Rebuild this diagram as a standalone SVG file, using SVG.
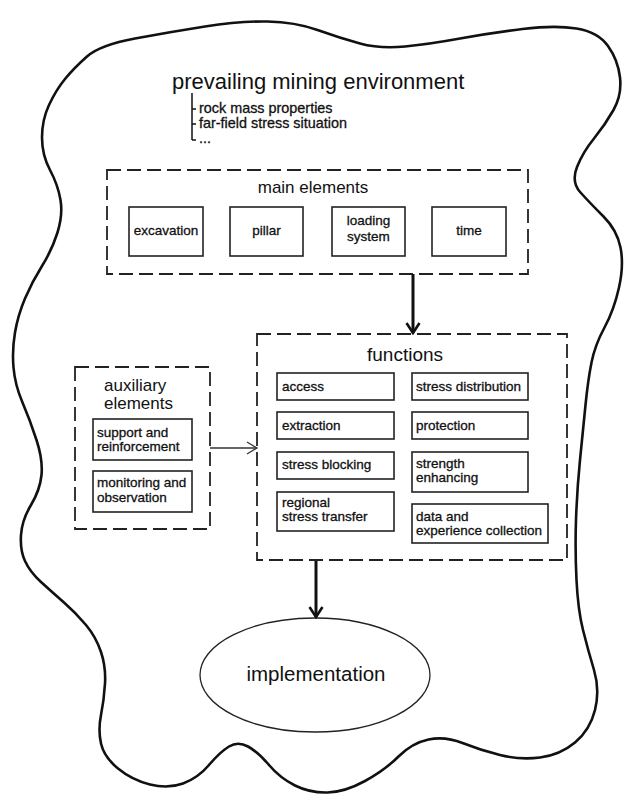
<svg xmlns="http://www.w3.org/2000/svg" width="625" height="794" viewBox="0 0 625 794">
<style>
text{font-family:"Liberation Sans",Arial,sans-serif;fill:#111}
.title{font-size:22px}
.sub{font-size:14.4px;stroke:#111;stroke-width:0.3}
.head{font-size:17px}
.lbl{font-size:13.5px;stroke:#111;stroke-width:0.3}
.dash{fill:none;stroke:#222;stroke-width:1.8;stroke-dasharray:14 6}
.box{fill:#fff;stroke:#222;stroke-width:1.6}
.blob{fill:none;stroke:#111;stroke-width:2.6;stroke-linejoin:round}
.thick{fill:none;stroke:#111;stroke-width:3}
.thin{fill:none;stroke:#333;stroke-width:1.3}
.mid{text-anchor:middle}
</style>
<defs>
<marker id="ahThick" markerUnits="userSpaceOnUse" viewBox="-2 -8 14 16" markerWidth="14" markerHeight="16" refX="10" refY="0" orient="auto">
<path d="M0,-6.5 L10,0 L0,6.5" fill="none" stroke="#111" stroke-width="2.6"/>
</marker>
<marker id="ahThin" markerUnits="userSpaceOnUse" viewBox="-2 -8 14 16" markerWidth="14" markerHeight="16" refX="10" refY="0" orient="auto">
<path d="M0,-6 L10,0 L0,6" fill="none" stroke="#333" stroke-width="1.3"/>
</marker>
</defs>
<rect width="625" height="794" fill="#fff"/>
<g id="environment">
<path class="blob" d="M87,56.5 Q100,45 135,38.5 Q170,32 205,26.5 Q240,21 267.5,21.5 Q295,22 317.5,30 Q340,38 360,43.5 Q380,49 405,46.5 Q430,44 460,38.5 Q490,33 522.5,29 Q555,25 576.5,28.5 Q598,32 608,46 Q618,60 620,77.5 Q622,95 613.5,110 Q605,125 594,138.5 Q583,152 577,167 Q571,182 580.5,192.5 Q590,203 603.5,216.5 Q617,230 620.5,247.5 Q624,265 619,287.5 Q614,310 604.5,327.5 Q595,345 591.5,362.5 Q588,380 585.5,405 Q583,430 580,460 Q577,490 576,520 Q575,550 576.5,580 Q578,610 583,630 Q588,650 594,670 Q600,690 595,710 Q590,730 575,742.5 Q560,755 540,757.5 Q520,760 500,755 Q480,750 462.5,743 Q445,736 428.5,739.5 Q412,743 398.5,756.5 Q385,770 365,781 Q345,792 327.5,792.5 Q310,793 295,785.5 Q280,778 269,765 Q258,752 248,746.5 Q238,741 229,746.5 Q220,752 209,765 Q198,778 183,783.5 Q168,789 150,784.5 Q132,780 118,768.5 Q104,757 101,743.5 Q98,730 101,715 Q104,700 105,683.5 Q106,667 101,652 Q96,637 86,625 Q76,613 64,602.5 Q52,592 41,582 Q30,572 25,561 Q20,550 21,535 Q22,520 31,505 Q40,490 41.5,475 Q43,460 36.5,440 Q30,420 22.5,402.5 Q15,385 13.5,367.5 Q12,350 15,332.5 Q18,315 25,298.5 Q32,282 42,266 Q52,250 57.5,232.5 Q63,215 60.5,200 Q58,185 50,170 Q42,155 42,137.5 Q42,120 49,105 Q56,90 65,79 Q74,68 87,56.5 Z"/>
<text class="title" x="172" y="89">prevailing mining environment</text>
<path d="M192,93 V140 M192,109 H196 M192,124 H196 M192,140 H196" fill="none" stroke="#111" stroke-width="1.5"/>
<text class="sub" x="199" y="113">rock mass properties</text>
<text class="sub" x="199" y="128">far-field stress situation</text>
<text class="sub" x="199" y="143">...</text>
</g>
<g id="main-elements">
<rect class="dash" x="107" y="170" width="421" height="104"/>
<text class="head mid" x="313" y="193">main elements</text>
</g>
<g id="excavation">
<rect class="box" x="129" y="207" width="74" height="49"/>
<text class="lbl mid" x="166" y="235">excavation</text>
</g>
<g id="pillar">
<rect class="box" x="230" y="207" width="73" height="49"/>
<text class="lbl mid" x="266.5" y="235">pillar</text>
</g>
<g id="loading-system">
<rect class="box" x="332" y="207" width="73" height="49"/>
<text class="lbl mid" x="368.5" y="225">loading</text>
<text class="lbl mid" x="368.5" y="241">system</text>
</g>
<g id="time">
<rect class="box" x="432" y="207" width="74" height="49"/>
<text class="lbl mid" x="469" y="235">time</text>
</g>
<g id="functions">
<rect class="dash" x="257" y="334" width="310" height="226"/>
<text class="mid" x="405" y="361" style="font-size:19px">functions</text>
</g>
<g id="access">
<rect class="box" x="277" y="373" width="117" height="27"/>
<text class="lbl" x="282" y="391">access</text>
</g>
<g id="stress-distribution">
<rect class="box" x="412" y="373" width="116" height="27"/>
<text class="lbl" x="416" y="391">stress distribution</text>
</g>
<g id="extraction">
<rect class="box" x="277" y="412" width="117" height="27"/>
<text class="lbl" x="282" y="430">extraction</text>
</g>
<g id="protection">
<rect class="box" x="412" y="412" width="116" height="27"/>
<text class="lbl" x="416" y="430">protection</text>
</g>
<g id="stress-blocking">
<rect class="box" x="277" y="452" width="117" height="27"/>
<text class="lbl" x="282" y="469">stress blocking</text>
</g>
<g id="strength-enhancing">
<rect class="box" x="412" y="452" width="116" height="40"/>
<text class="lbl" x="416" y="467.5">strength</text>
<text class="lbl" x="416" y="481.5">enhancing</text>
</g>
<g id="regional-stress-transfer">
<rect class="box" x="277" y="492" width="117" height="39"/>
<text class="lbl" x="282" y="507">regional</text>
<text class="lbl" x="282" y="521">stress transfer</text>
</g>
<g id="data-experience">
<rect class="box" x="412" y="504" width="136" height="39"/>
<text class="lbl" x="416" y="521">data and</text>
<text class="lbl" x="416" y="535">experience collection</text>
</g>
<g id="auxiliary-elements">
<rect class="dash" x="75" y="367" width="135" height="162"/>
<text class="head" x="104" y="391">auxiliary</text>
<text class="head" x="104" y="409">elements</text>
</g>
<g id="support">
<rect class="box" x="93" y="419" width="99" height="41"/>
<text class="lbl" x="97" y="436.5">support and</text>
<text class="lbl" x="97" y="450.5">reinforcement</text>
</g>
<g id="monitoring">
<rect class="box" x="93" y="471" width="99" height="41"/>
<text class="lbl" x="97" y="487">monitoring and</text>
<text class="lbl" x="97" y="501.5">observation</text>
</g>
<g id="implementation">
<ellipse cx="315" cy="675" rx="115" ry="57" fill="#fff" stroke="#222" stroke-width="1.3"/>
<text class="mid" x="316" y="681" style="font-size:20.5px">implementation</text>
</g>
<g id="connectors">
<line class="thick" x1="413" y1="274" x2="413" y2="333" marker-end="url(#ahThick)"/>
<line class="thick" x1="316" y1="561" x2="316" y2="617" marker-end="url(#ahThick)"/>
<line class="thin" x1="210" y1="448" x2="257" y2="448" marker-end="url(#ahThin)"/>
</g>
</svg>
